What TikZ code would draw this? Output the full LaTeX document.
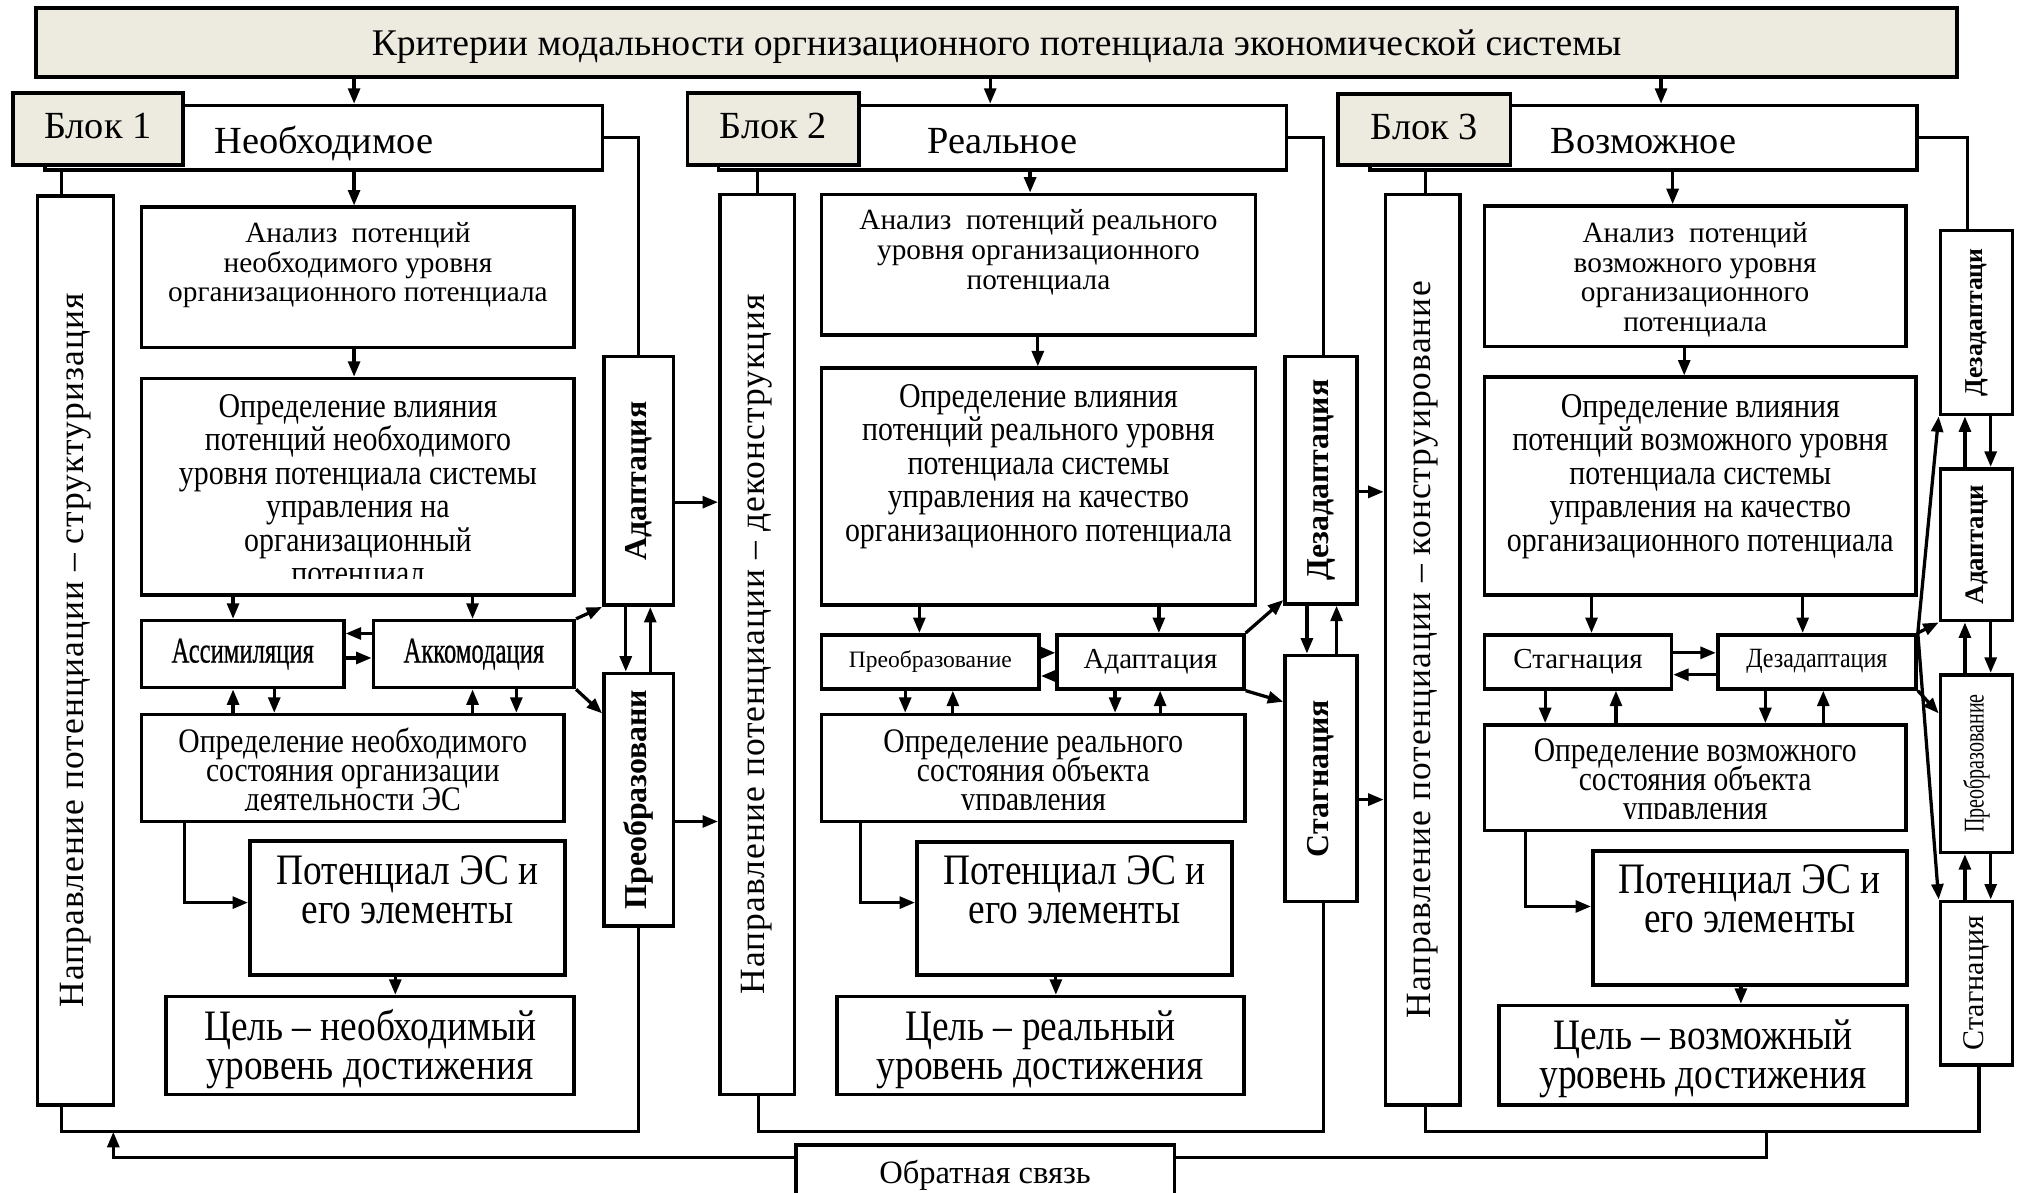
\documentclass[tikz,border=0pt]{standalone}
\usepackage{fontspec}
\setmainfont{Liberation Serif}
\newfontfamily\cnd[FakeStretch=0.86]{Liberation Serif}
\newfontfamily\xcnd[FakeStretch=0.7]{Liberation Serif}
\newfontfamily\xcndb[FakeStretch=0.68,FakeBold=0.6]{Liberation Serif}
\newfontfamily\spc[LetterSpace=3]{Liberation Serif}
\usetikzlibrary{arrows.meta,calc}
\definecolor{beige}{RGB}{237,235,224}
\newcommand\pxu{0.125mm}
\newcommand\cutlow{1pt}

% text sizes (tight leading is kept as set)
\newcommand\tight{\lineskiplimit=-20pt\relax}
\newcommand\fTitle{\fontsize{10.4}{12}\selectfont}
\newcommand\fHead{\fontsize{10.6}{12}\selectfont}
\newcommand\fAn{\fontsize{8.1}{8.2}\selectfont\tight}
\newcommand\fInf{\cnd\fontsize{9.6}{9.25}\selectfont\tight}
\newcommand\fSt{\cnd\fontsize{9.5}{8.0}\selectfont\tight}
\newcommand\fPot{\cnd\fontsize{12}{10.8}\selectfont\tight}
\newcommand\fDir{\spc\fontsize{9.8}{11}\selectfont}
\newcommand\fBold{\bfseries\fontsize{8.8}{10}\selectfont}
\newcommand\fMid{\fontsize{9}{10}\selectfont}
\newcommand\fSm{\fontsize{8}{9}\selectfont}
\newcommand\fSq{\xcndb\fontsize{10}{11}\selectfont}

\tikzset{
  box/.style={draw, line width=1pt, fill=white, inner sep=0pt, rectangle},
  tag/.style={box, fill=beige},
  hd/.style={text height=7.5pt, text depth=2pt},
  ln/.style={line width=0.9pt},
  arr/.style={ln, -{Triangle[length=1.5mm,width=1.15mm]}},
  inner text/.style={draw=none, fill=none, inner sep=0pt, align=center},
}

% box by corners, text centred
\newcommand\bx[8][]{%
  \node[box,#1,font={#7},align=center,
        minimum width={(#5-#3)*\pxu},minimum height={(#6-#4)*\pxu}]
        (#2) at ({(#3+#5)/2},{(#4+#6)/2}) {#8};}
% box by corners, text hung from the top edge and cut off \cutlow above the bottom
\newcommand\tbx[9][]{%
  \node[box,#1,minimum width={(#5-#3)*\pxu},minimum height={(#6-#4)*\pxu}]
        (#2) at ({(#3+#5)/2},{(#4+#6)/2}) {};
  \begin{scope}
    \clip ([shift={(1pt,\cutlow)}]#2.south west) rectangle ([shift={(-1pt,-1pt)}]#2.north east);
    \node[inner text,anchor=north,font={#8}] (#2-t)
      at ([yshift={-(#7)*\pxu}]#2.north) {\rule{0pt}{0.8em}#9};
  \end{scope}}
% upright box by corners, text turned to read upwards
\newcommand\vbx[8][]{%
  \node[box,#1,minimum width={(#5-#3)*\pxu},minimum height={(#6-#4)*\pxu},
        path picture={\node[inner text,rotate=90,font={#7}] (#2-t)
          at (path picture bounding box.center) {#8};}]
        (#2) at ({(#3+#5)/2},{(#4+#6)/2}) {};}

\begin{document}
\begin{tikzpicture}[x=0.125mm,y=-0.125mm]
\useasboundingbox (0,0) rectangle (1568,926);

% ---------- heading ----------
\bx[tag,hd,line width=1.2pt]{title}{28}{6}{1520}{60}{\fTitle}{\raisebox{-0.3mm}{Критерии модальности оргнизационного потенциала экономической системы}}

% ---------- block 1 ----------
\bx[hd]{hdr1}{35}{82}{468}{132}{\fHead}{\raisebox{-0.6mm}{Необходимое}}
\bx[tag,hd]{blk1}{10}{72}{142}{128}{\fHead}{Блок 1}
\vbx{dir1}{29}{152}{88}{858}{\fDir}{Направление потенциации – структуризация}
\tbx{an1}{110}{161}{446}{270}{10}{\fAn}{Анализ~ потенций\\необходимого уровня\\организационного потенциала}
\renewcommand\cutlow{1.8mm}
\tbx{inf1}{110}{294}{446}{462}{9.5}{\fInf}{Определение влияния\\потенций необходимого\\уровня потенциала системы\\управления на\\организационный\\потенциал}
\renewcommand\cutlow{1pt}
\bx{as1}{110}{482}{267}{534}{\fSq}{Ассимиляция}
\bx{ak1}{290}{482}{446}{534}{\fSq}{Аккомодация}
\renewcommand\cutlow{1.2mm}
\tbx{st1}{110}{555}{438}{638}{8.6}{\fSt}{Определение необходимого\\состояния организации\\деятельности ЭС}
\renewcommand\cutlow{1pt}
\tbx{pot1}{194}{653}{439}{757}{8}{\fPot}{Потенциал ЭС и\\его элементы}
\tbx{goal1}{129}{774}{446}{850}{8}{\fPot}{Цель – необходимый\\уровень достижения}
\vbx{ad1}{469}{277}{523}{470}{\fBold}{Адаптация}
\vbx{pr1}{469}{523}{523}{719}{\fBold}{Преобразовани}

% ---------- block 2 ----------
\bx[hd]{hdr2}{558}{82}{999}{132}{\fHead}{\raisebox{-0.6mm}{Реальное}}
\bx[tag,hd]{blk2}{534}{72}{667}{128}{\fHead}{Блок 2}
\vbx{dir2}{559}{151}{617}{850}{\fDir}{Направление потенциации – деконструкция}
\tbx{an2}{638}{151}{975}{260}{10}{\fAn}{Анализ~ потенций реального\\уровня организационного\\потенциала}
\tbx{inf2}{638}{286}{975}{470}{9.5}{\fInf}{Определение влияния\\потенций реального уровня\\потенциала системы\\управления на качество\\организационного потенциала}
\bx{pb2}{638}{493}{807}{535}{\fontsize{6.5}{7.5}\selectfont}{Преобразование}
\bx{ad2}{821}{493}{966}{535}{\fSm}{Адаптация}
\renewcommand\cutlow{1.3mm}
\tbx{st2s}{638}{555}{967}{638}{8.6}{\fSt}{Определение реального\\состояния объекта\\управления}
\renewcommand\cutlow{1pt}
\tbx{pot2}{712}{654}{957}{757}{7}{\fPot}{Потенциал ЭС и\\его элементы}
\tbx{goal2}{650}{774}{966}{850}{8}{\fPot}{Цель – реальный\\уровень достижения}
\vbx{dz2}{998}{277}{1054}{469}{\fBold}{Дезадаптация}
\vbx{sg2}{998}{509}{1054}{700}{\fBold}{Стагнация}

% ---------- block 3 ----------
\bx[hd]{hdr3}{1064}{82}{1489}{132}{\fHead}{\raisebox{-0.6mm}{Возможное}}
\bx[tag,hd]{blk3}{1039}{73}{1173}{128}{\fHead}{Блок 3}
\vbx{dir3}{1076}{151}{1134}{858}{\fDir}{Направление потенциации – конструирование}
\tbx{an3}{1153}{160}{1480}{269}{11}{\fAn}{Анализ~ потенций\\возможного уровня\\организационного\\потенциала}
\tbx{inf3}{1153}{293}{1488}{462}{10.5}{\fInf}{Определение влияния\\потенций возможного уровня\\потенциала системы\\управления на качество\\организационного потенциала}
\bx{sg3}{1153}{493}{1298}{535}{\fSm}{Стагнация}
\bx{dz3}{1334}{493}{1488}{535}{\cnd\fontsize{7.7}{9}\selectfont}{Дезадаптация}
\renewcommand\cutlow{1.3mm}
\tbx{st3}{1153}{563}{1480}{645}{7.6}{\fSt}{Определение возможного\\состояния объекта\\управления}
\renewcommand\cutlow{1pt}
\tbx{pot3}{1237}{661}{1481}{765}{7}{\fPot}{Потенциал ЭС и\\его элементы}
\tbx{goal3}{1164}{781}{1481}{858}{8}{\fPot}{Цель – возможный\\уровень достижения}

% ---------- right column ----------
\vbx{rdz}{1507}{179}{1563}{322}{\bfseries\fontsize{7.1}{8}\selectfont}{Дезадаптаци}
\vbx{rad}{1507}{364}{1563}{482}{\bfseries\fontsize{7.4}{8}\selectfont}{Адаптаци}
\vbx{rpr}{1507}{524}{1563}{662}{\xcnd\fontsize{7.9}{9}\selectfont}{Преобразование}
\vbx{rst}{1507}{700}{1563}{827}{\fontsize{8.3}{9}\selectfont}{Стагнация}

% ---------- feedback ----------
\bx{fb}{618}{889}{912}{940}{\fMid}{\raisebox{1.2mm}{Обратная связь}}

% ---------- connectors: heading ----------
\draw[arr] (title.south -| 275,0) -- (hdr1.north -| 275,0);
\draw[arr] (title.south -| 769,0) -- (hdr2.north -| 769,0);
\draw[arr] (title.south -| 1290,0) -- (hdr3.north -| 1290,0);

% ---------- connectors: block 1 ----------
\draw[ln] (hdr1.south -| 48,0) -- (dir1.north -| 48,0);
\draw[ln] (hdr1.east) -| (ad1.north);
\draw[arr] (hdr1.south -| 275,0) -- (an1.north -| 275,0);
\draw[arr] (an1.south -| 275,0) -- (inf1.north -| 275,0);
\draw[arr] (inf1.south -| 181,0) -- (as1.north -| 181,0);
\draw[arr] (inf1.south -| 367,0) -- (ak1.north -| 367,0);
\draw[arr] (ak1.west |- 0,492) -- (as1.east |- 0,492);
\draw[arr] (as1.east |- 0,511) -- (ak1.west |- 0,511);
\draw[arr] (st1.north -| 181,0) -- (as1.south -| 181,0);
\draw[arr] (as1.south -| 213,0) -- (st1.north -| 213,0);
\draw[arr] (st1.north -| 367,0) -- (ak1.south -| 367,0);
\draw[arr] (ak1.south -| 401,0) -- (st1.north -| 401,0);
\draw[arr] (ak1.north east) -- (ad1.south west);
\draw[arr] (ak1.south east) -- (pr1.west |- 0,554);
\draw[arr] (ad1.south -| 486,0) -- (pr1.north -| 486,0);
\draw[arr] (pr1.north -| 505,0) -- (ad1.south -| 505,0);
\draw[arr] (ad1.east |- 0,390) -- (dir2.west |- 0,390);
\draw[arr] (pr1.east |- 0,638) -- (dir2.west |- 0,638);
\draw[arr] (st1.south -| 143,0) |- (pot1.west |- 0,701);
\draw[arr] (pot1.south -| 307,0) -- (goal1.north -| 307,0);
\coordinate (lp1) at (496,879);
\draw[ln] (dir1.south -| 48,0) |- (lp1) -- (pr1.south);

% ---------- connectors: block 2 ----------
\draw[ln] (hdr2.south -| 588,0) -- (dir2.north -| 588,0);
\draw[ln] (hdr2.east) -| (dz2.north -| 1028,0);
\draw[arr] (hdr2.south -| 800,0) -- (an2.north -| 800,0);
\draw[arr] (an2.south -| 806,0) -- (inf2.north -| 806,0);
\draw[arr] (inf2.south -| 714,0) -- (pb2.north -| 714,0);
\draw[arr] (inf2.south -| 900,0) -- (ad2.north -| 900,0);
\draw[arr] (pb2.east |- 0,507) -- (ad2.west |- 0,507);
\draw[arr] (ad2.west |- 0,525) -- (pb2.east |- 0,525);
\draw[arr] (pb2.south -| 703,0) -- (st2s.north -| 703,0);
\draw[arr] (st2s.north -| 740,0) -- (pb2.south -| 740,0);
\draw[arr] (ad2.south -| 866,0) -- (st2s.north -| 866,0);
\draw[arr] (st2s.north -| 901,0) -- (ad2.south -| 901,0);
\draw[arr] (ad2.north east) -- (dz2.west |- 0,466);
\draw[arr] (ad2.south east) -- (sg2.west |- 0,545);
\draw[arr] (dz2.south -| 1015,0) -- (sg2.north -| 1015,0);
\draw[arr] (sg2.north -| 1038,0) -- (dz2.south -| 1038,0);
\draw[arr] (dz2.east |- 0,382) -- (dir3.west |- 0,382);
\draw[arr] (sg2.east |- 0,621) -- (dir3.west |- 0,621);
\draw[arr] (st2s.south -| 668,0) |- (pot2.west |- 0,701);
\draw[arr] (pot2.south -| 820,0) -- (goal2.north -| 820,0);
\coordinate (lp2) at (1028,879);
\draw[ln] (dir2.south -| 589,0) |- (lp2) -- (sg2.south -| 1028,0);

% ---------- connectors: block 3 ----------
\draw[ln] (hdr3.south -| 1107,0) -- (dir3.north -| 1107,0);
\draw[ln] (hdr3.east) -| (rdz.north -| 1528,0);
\draw[arr] (hdr3.south -| 1299,0) -- (an3.north -| 1299,0);
\draw[arr] (an3.south -| 1308,0) -- (inf3.north -| 1308,0);
\draw[arr] (inf3.south -| 1236,0) -- (sg3.north -| 1236,0);
\draw[arr] (inf3.south -| 1400,0) -- (dz3.north -| 1400,0);
\draw[arr] (sg3.east |- 0,507) -- (dz3.west |- 0,507);
\draw[arr] (dz3.west |- 0,524) -- (sg3.east |- 0,524);
\draw[arr] (sg3.south -| 1200,0) -- (st3.north -| 1200,0);
\draw[arr] (st3.north -| 1255,0) -- (sg3.south -| 1255,0);
\draw[arr] (dz3.south -| 1371,0) -- (st3.north -| 1371,0);
\draw[arr] (st3.north -| 1416,0) -- (dz3.south -| 1416,0);
\draw[arr] (st3.south -| 1185,0) |- (pot3.west |- 0,704);
\draw[arr] (pot3.south -| 1352,0) -- (goal3.north -| 1352,0);
\draw[arr] (dz3.north east) -- (rdz.south west);
\draw[arr] (dz3.north east) -- (rad.south west);
\draw[arr] (dz3.north east) -- (rst.north west);
\draw[arr] (dz3.south east) -- (rpr.west |- 0,554);
\draw[arr] (rad.north -| 1526,0) -- (rdz.south -| 1526,0);
\draw[arr] (rdz.south -| 1546,0) -- (rad.north -| 1546,0);
\draw[arr] (rpr.north -| 1526,0) -- (rad.south -| 1526,0);
\draw[arr] (rad.south -| 1546,0) -- (rpr.north -| 1546,0);
\draw[arr] (rst.north -| 1526,0) -- (rpr.south -| 1526,0);
\draw[arr] (rpr.south -| 1546,0) -- (rst.north -| 1546,0);
\coordinate (lp3) at (1537,879);
\draw[ln] (dir3.south -| 1107,0) |- (lp3) -- (rst.south -| 1537,0);

% ---------- connectors: feedback ----------
\coordinate (fbj1) at (88,879);
\coordinate (fbj3) at (1372,879);
\draw[arr] (fb.west |- 0,899) -| (fbj1);
\draw[ln] (fb.east |- 0,899) -| (fbj3);
\end{tikzpicture}
\end{document}
